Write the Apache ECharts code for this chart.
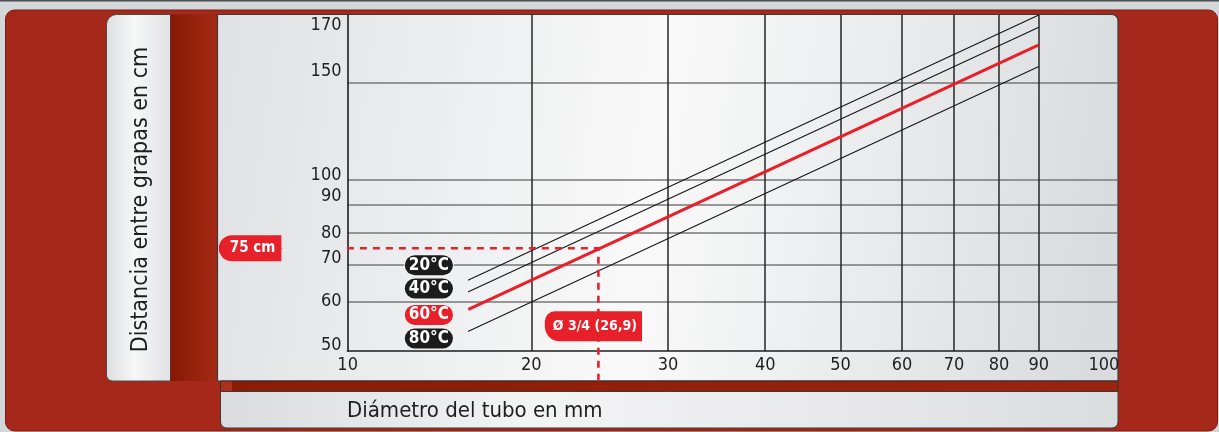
<!DOCTYPE html>
<html>
<head>
<meta charset="utf-8">
<script src="https://cdn.jsdelivr.net/npm/echarts@6/dist/echarts.min.js"></script>
<style>
html,body{margin:0;padding:0;background:#d3d7da;}
#chart{width:1219px;height:432px;}
</style>
</head>
<body>
<div id="chart"></div>
<script>
// ---------------- data ----------------
const xTickValues = [10, 20, 30, 40, 50, 60, 70, 80, 90, 100];
const xTickLabels = ['10', '20', '30', '40', '50', '60', '70', '80', '90', '100'];
const yTickValues = [50, 60, 70, 80, 90, 100, 150, 170];
const yTickLabels = ['50', '60', '70', '80', '90', '100', '150', '170'];
// value reached at the drawn edges of the log scales (edges carry the labels 10 / 100 / 170)
const xRange = [11.6, 113.8];
const yRange = [48.8, 199];
// temperature curves: spacing (cm) at the first and last drawn diameter (mm)
const lineDiameters = [16.6, 90];
const tempNames = ['20°C', '40°C', '60°C', '80°C'];
const spacing20 = [65.7, 198.9];
const spacing40 = [62.5, 189.1];
const spacing60 = [58.1, 175.6];
const spacing80 = [53.0, 160.4];
// worked example (dashed guide)
const guideX = [9.55, 24.4, 24.4, 24.4];
const guideY = [75, 75, 54.1, 43.2];
const guideLabelStart = '75 cm';
const guideLabelPipe = 'Ø 3/4 (26,9)';

// ---------------- styling / building ----------------
const FONT = "'Liberation Sans Narrow','DejaVu Sans Condensed','Open Sans',sans-serif";
const RED = '#e8202a';
const INK = '#1e1e1e';
const TICK_FS = 18;
const LG = echarts.graphic.LinearGradient;

const xGrid = xTickValues.slice(1, -1);
const xLabelPos = xTickValues.map(v => v === 10 ? xRange[0] * 1.0005 : (v === 100 ? xRange[1] / 1.0005 : v));
const yGrid = yTickValues.filter(v => v !== 50 && v !== 170);
const yLabelPos = yTickValues.map(v => v === 170 ? yRange[1] / 1.0005 : v);

function nearestIdx(arr, v) {
  let best = 0, bd = Infinity;
  arr.forEach((a, i) => { const d = Math.abs(Math.log(a) - Math.log(v)); if (d < bd) { bd = d; best = i; } });
  return best;
}
const yShift = { '150': 'u11', '100': 'u4', '90': 'u8', '70': 'u6', '170': 'd10' };
function tk(pad) { return { padding: pad, fontFamily: FONT, fontSize: TICK_FS, color: INK }; }

function tempSeries(idx, vals, color, width, dy, bg) {
  const name = tempNames[idx];
  return {
    type: 'line', name: name, clip: false, silent: true, symbol: 'none',
    lineStyle: { color: color, width: width },
    itemStyle: { color: color },
    z: idx === 2 ? 4 : 3,
    data: lineDiameters.map((d, i) => i === 0 ? {
      value: [d, vals[i]], symbol: 'circle', symbolSize: 1,
      label: {
        show: true, position: 'left', distance: 15, offset: [0, dy], formatter: name,
        backgroundColor: bg, color: '#fff', fontFamily: FONT, fontWeight: 'bold', fontSize: 17,
        lineHeight: 20, padding: [0, 4, 0, 4], borderRadius: 11, borderColor: '#f2f2f2', borderWidth: 1
      }
    } : [d, vals[i]])
  };
}

const guideData = guideX.map((x, i) => {
  if (i === 0) {
    return {
      value: [x, guideY[i]], symbol: 'circle', symbolSize: 1,
      label: {
        show: true, position: 'left', distance: 0, formatter: guideLabelStart,
        backgroundColor: RED, color: '#fff', fontFamily: FONT, fontWeight: 'bold', fontSize: 15,
        lineHeight: 18, padding: [4, 6, 4, 11], borderRadius: [13, 0, 0, 13]
      }
    };
  }
  if (i === 2) {
    return {
      value: [x, guideY[i]], symbol: 'circle', symbolSize: 1,
      label: {
        show: true, position: 'inside', offset: [-5, 0], formatter: guideLabelPipe,
        backgroundColor: RED, color: '#fff', fontFamily: FONT, fontWeight: 'bold', fontSize: 14,
        lineHeight: 18, padding: [6, 5, 6, 8], borderRadius: [10, 0, 0, 15]
      }
    };
  }
  return [x, guideY[i]];
});

const chart = echarts.init(document.getElementById('chart'), null, { renderer: 'canvas' });

const option = {
  animation: false,
  backgroundColor: '#d3d7da',
  graphic: [
    { type: 'rect', z: -100, silent: true, shape: { x: 0, y: 0, width: 1219, height: 1.5 }, style: { fill: '#4d4f51' } },
    { type: 'rect', z: -99, silent: true, shape: { x: 5.5, y: 10, width: 1212, height: 421, r: 9 },
      style: { fill: '#a5281a', stroke: '#7a1c10', lineWidth: 1 } },
    { type: 'rect', z: -98, silent: true, shape: { x: 106.5, y: 14.5, width: 64, height: 366.5, r: [10, 0, 0, 6] },
      style: { fill: new LG(0, 0, 1, 0, [{ offset: 0, color: '#dcdee0' }, { offset: 0.45, color: '#f6f7f7' }, { offset: 1, color: '#dfe1e3' }]),
        stroke: '#4a4a4a', lineWidth: 1 } },
    { type: 'rect', z: -97, silent: true, shape: { x: 170.5, y: 14.5, width: 47, height: 366.5 },
      style: { fill: new LG(0, 0, 1, 0, [{ offset: 0, color: '#861903' }, { offset: 1, color: '#a52a15' }]) } },
    { type: 'rect', z: -97, silent: true, shape: { x: 217.5, y: 14.5, width: 900.5, height: 366.5, r: [0, 6, 0, 0] },
      style: { fill: new LG(0, 0, 1, 0.35, [{ offset: 0, color: '#dfe1e4' }, { offset: 0.5, color: '#f9f9f9' }, { offset: 1, color: '#d9dcdf' }]),
        stroke: '#3a3a3a', lineWidth: 1.2 } },
    { type: 'rect', z: -97, silent: true, shape: { x: 220.5, y: 381, width: 897.5, height: 10.5 },
      style: { fill: new LG(0, 0, 1, 0, [{ offset: 0, color: '#8a1b05' }, { offset: 1, color: '#9a2410' }]), stroke: '#3a2a28', lineWidth: 1 } },
    { type: 'rect', z: -96, silent: true, shape: { x: 221, y: 381.5, width: 11, height: 9.5 }, style: { fill: '#ad301b' } },
    { type: 'rect', z: -97, silent: true, shape: { x: 220.5, y: 391.5, width: 897.5, height: 36.5, r: [0, 0, 6, 6] },
      style: { fill: new LG(0, 0, 1, 0, [{ offset: 0, color: '#d9dbde' }, { offset: 0.35, color: '#f3f4f4' }, { offset: 1, color: '#dadde0' }]),
        stroke: '#3a3a3a', lineWidth: 1 } }
  ],
  grid: { left: 347.5, right: 101, top: 15, bottom: 81, containLabel: false },
  xAxis: {
    type: 'log', logBase: 10, min: xRange[0], max: xRange[1],
    axisLine: { show: true, onZero: false, lineStyle: { color: INK, width: 1.6 } },
    axisTick: { show: false, customValues: xGrid },
    minorTick: { show: false }, minorSplitLine: { show: false },
    splitLine: { show: true, lineStyle: { color: '#262626', width: 1.5 } },
    axisLabel: {
      customValues: xLabelPos, margin: 5, color: INK, fontFamily: FONT, fontSize: TICK_FS,
      formatter: function (v) {
        const i = nearestIdx(xLabelPos, v);
        const t = xTickLabels[i];
        return i === xTickLabels.length - 1 ? '{r|' + t + '}' : t;
      },
      rich: { r: tk([0, 28, 0, 0]) }
    },
    name: 'Diámetro del tubo en mm', nameLocation: 'middle', nameGap: 49,
    nameTextStyle: { fontFamily: FONT, fontSize: 22, color: INK, padding: [0, 516, 0, 0] }
  },
  yAxis: {
    type: 'log', logBase: 10, min: yRange[0], max: yRange[1],
    axisLine: { show: true, lineStyle: { color: INK, width: 1.6 } },
    axisTick: { show: false, customValues: yGrid },
    minorTick: { show: false }, minorSplitLine: { show: false },
    splitLine: { show: true, lineStyle: { color: '#777777', width: 1.6 } },
    axisLabel: {
      customValues: yLabelPos, margin: 6, color: INK, fontFamily: FONT, fontSize: TICK_FS,
      formatter: function (v) {
        const t = yTickLabels[nearestIdx(yLabelPos, v)];
        const s = yShift[t];
        return s ? '{' + s + '|' + t + '}' : t;
      },
      rich: {
        u11: tk([0, 0, 22, 0]),
        u8: tk([0, 0, 16, 0]),
        u6: tk([0, 0, 12, 0]),
        u4: tk([0, 0, 8, 0]),
        d10: tk([20, 0, 0, 0])
      }
    },
    name: 'Distancia entre grapas en cm', nameLocation: 'middle', nameRotate: 90, nameGap: 195,
    nameTextStyle: { fontFamily: FONT, fontSize: 23, color: INK, padding: [0, 33, 0, 0] }
  },
  series: [
    tempSeries(0, spacing20, '#151515', 1.1, -14.7, '#1c1c1c'),
    tempSeries(1, spacing40, '#151515', 1.1, -3.4, '#1c1c1c'),
    tempSeries(2, spacing60, RED, 3, 5.6, RED),
    tempSeries(3, spacing80, '#151515', 1.1, 7.2, '#1c1c1c'),
    {
      type: 'line', name: 'guide', clip: false, silent: true, symbol: 'none', z: 5,
      lineStyle: { color: RED, width: 2.6, type: [7, 6] },
      itemStyle: { color: RED },
      data: guideData
    }
  ]
};
chart.setOption(option);
</script>
</body>
</html>
